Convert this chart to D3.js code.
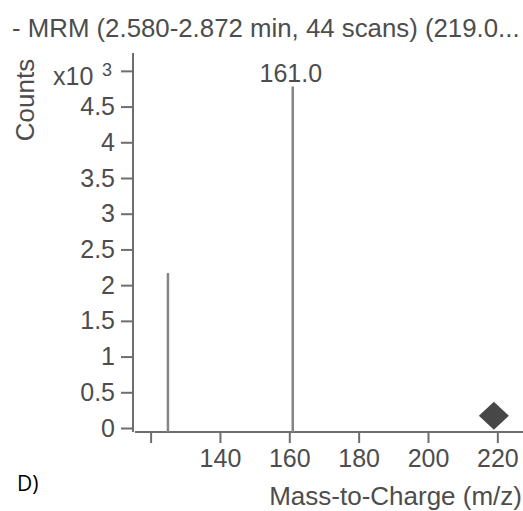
<!DOCTYPE html>
<html>
<head>
<meta charset="utf-8">
<script src="https://cdn.jsdelivr.net/npm/d3@7"></script>
<style>
  body { margin: 0; background: #fff; }
  svg { display: block; }
  text { font-family: "Liberation Sans", Arial, sans-serif; fill: #4d4d4d; }
</style>
</head>
<body>
<script>
// peaks in the MRM product ion spectrum
const peakMz = [125.0, 161.0]
const peakCounts = [2170, 4780]
const peakLabels = ['', '161.0']
// precursor marker
const precursorMz = [219.0]
const precursorCounts = [170]
const xTicks = [120, 140, 160, 180, 200, 220]
const xTickLabels = ['', '140', '160', '180', '200', '220']
const yTicks = [0, 500, 1000, 1500, 2000, 2500, 3000, 3500, 4000, 4500, 5000]
const yTickLabels = ['0', '0.5', '1', '1.5', '2', '2.5', '3', '3.5', '4', '4.5', '']

const config = {
  width: 523,
  height: 511,
  axisColor: '#6e6e6e',
  barColor: '#858585',
  markerColor: '#474747',
  textColor: '#4d4d4d'
}

const svg = d3.select('body').append('svg')
  .attr('width', config.width)
  .attr('height', config.height)

const x = d3.scaleLinear().domain([115.5, 227.4]).range([135, 523])
const y = d3.scaleLinear().domain([0, 5250]).range([428, 53])
const baseY = 432

// title
svg.append('text')
  .attr('x', 12).attr('y', 37)
  .style('font-size', '25.8px')
  .text('- MRM (2.580-2.872 min, 44 scans) (219.0...')

// y axis ticks
const yAxis = svg.append('g')
  .attr('transform', `translate(${x.range()[0] - 2},0)`)
  .call(d3.axisLeft(y).tickValues(yTicks)
    .tickFormat((d, i) => yTickLabels[i])
    .tickSize(12).tickPadding(6))
yAxis.select('.domain').remove()
yAxis.selectAll('line').attr('stroke', config.axisColor).attr('stroke-width', 2)
yAxis.selectAll('text').style('font-size', '25px').attr('fill', config.textColor)
  .style('font-family', '"Liberation Sans", Arial, sans-serif')

svg.append('line')
  .attr('x1', x.range()[0] - 2).attr('x2', x.range()[0] - 2)
  .attr('y1', y.range()[1]).attr('y2', baseY)
  .attr('stroke', config.axisColor).attr('stroke-width', 2)

// exponent label on top tick
const topY = y(5000)
svg.append('text')
  .attr('x', 53).attr('y', topY + 14)
  .style('font-size', '25px')
  .text('x10')
svg.append('text')
  .attr('x', 112).attr('y', topY + 5)
  .attr('text-anchor', 'end')
  .style('font-size', '18px')
  .text('3')

// x axis
const xAxis = svg.append('g')
  .attr('transform', `translate(0,${baseY})`)
  .call(d3.axisBottom(x).tickValues(xTicks)
    .tickFormat((d, i) => xTickLabels[i])
    .tickSize(11).tickPadding(6))
xAxis.select('.domain').remove()
xAxis.selectAll('line').attr('stroke', config.axisColor).attr('stroke-width', 2)
xAxis.selectAll('text').style('font-size', '25px').attr('fill', config.textColor)
  .style('font-family', '"Liberation Sans", Arial, sans-serif')

svg.append('line')
  .attr('x1', x.range()[0]).attr('x2', x.range()[1])
  .attr('y1', baseY).attr('y2', baseY)
  .attr('stroke', config.axisColor).attr('stroke-width', 2)

// axis titles
svg.append('text')
  .attr('transform', 'translate(34,100) rotate(-90)')
  .attr('text-anchor', 'middle')
  .style('font-size', '26px')
  .text('Counts')

svg.append('text')
  .attr('x', 522).attr('y', 505)
  .attr('text-anchor', 'end')
  .style('font-size', '26px')
  .text('Mass-to-Charge (m/z)')

svg.append('text')
  .attr('x', 17).attr('y', 491)
  .style('font-family', '"Open Sans", "DejaVu Sans", sans-serif')
  .style('font-size', '21px')
  .style('fill', '#000')
  .text('D)')

// peaks
svg.selectAll('.peak')
  .data(peakMz).enter().append('line')
  .attr('class', 'peak')
  .attr('x1', d => x(d)).attr('x2', d => x(d))
  .attr('y1', baseY)
  .attr('y2', (d, i) => y(peakCounts[i]))
  .attr('stroke', config.barColor)
  .attr('stroke-width', 2.5)

svg.selectAll('.peak-label')
  .data(peakMz).enter().append('text')
  .attr('class', 'peak-label')
  .attr('x', d => x(d) - 2)
  .attr('y', (d, i) => y(peakCounts[i]) - 5)
  .attr('text-anchor', 'middle')
  .style('font-size', '25px')
  .text((d, i) => peakLabels[i])

// precursor diamond
const diamond = 'M0,-14 L15,0 L0,14 L-15,0 Z'
svg.selectAll('.precursor')
  .data(precursorMz).enter().append('path')
  .attr('class', 'precursor')
  .attr('transform', (d, i) => `translate(${x(d)},${y(precursorCounts[i])})`)
  .attr('d', diamond)
  .attr('fill', config.markerColor)
</script>
</body>
</html>
